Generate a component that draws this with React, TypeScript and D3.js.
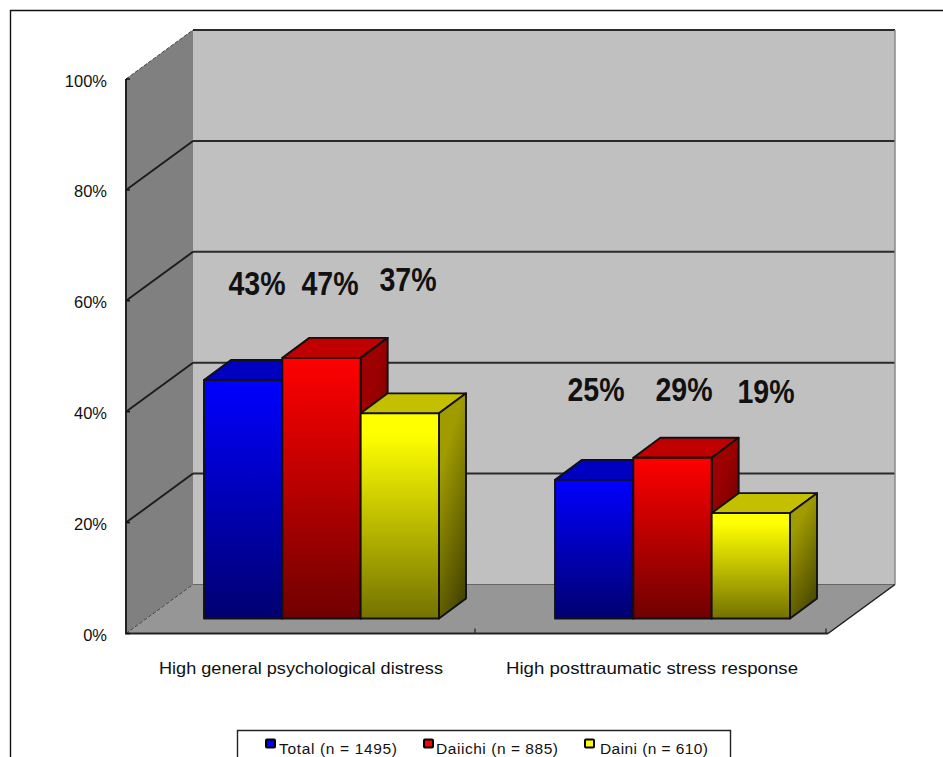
import React from "react";
import * as d3 from "d3";

const categories = ["High general psychological distress", "High posttraumatic stress response"];
const categoryTextWidths = [284, 292];
const seriesNames = ["Total (n = 1495)", "Daiichi (n = 885)", "Daini (n = 610)"];
const legendTextWidths = [118, 122, 108];
const totalValues = [43, 25];
const daiichiValues = [47, 29];
const dainiValues = [37, 19];
const yTicks = [0, 20, 40, 60, 80, 100];
const labelAnchors = [
  [[257, 295], [330, 295], [408, 291]],
  [[596, 401], [684, 401], [766, 403]],
];

const WIDTH = 943;
const HEIGHT = 757;
const FRONT_LEFT = 126;
const FRONT_RIGHT = 828;
const DEPTH_X = 67;
const DEPTH_Y = -49;
const BAR_DEPTH_X = 27;
const BAR_DEPTH_Y = -20;
const BAR_SHIFT_X = 20;
const BAR_BASE_LIFT = 15;

const y = d3.scaleLinear().domain([0, 100]).range([633.5, 79]);
const xBand = d3.scaleBand<string>().domain(categories).range([FRONT_LEFT, FRONT_RIGHT]);
const xInner = d3.scaleBand<string>().domain(seriesNames).range([-117.5, 117.5]);
const FONT = "'Liberation Sans', Arial, sans-serif";

const palette = [
  { id: "blue", front: ["#0000ff", "#000070"], top: "#0000c0", side: ["#000098", "#000048"] },
  { id: "red", front: ["#ff0000", "#700000"], top: "#c00000", side: ["#9c0000", "#4c0000"] },
  { id: "yellow", front: ["#ffff00", "#747200"], top: "#c4c000", side: ["#a09c00", "#464400"] },
];
const allValues = [totalValues, daiichiValues, dainiValues];

const poly = (pts: [number, number][]) => (d3.line()(pts) ?? "") + "Z";

export default function App() {
  const line = "#1c1c1c";
  return (
    <svg
      width={WIDTH}
      height={HEIGHT}
      style={{ position: "absolute", left: 0, top: 0, background: "#fff", fontFamily: FONT }}
    >
      <defs>
        {palette.map((p) => (
          <React.Fragment key={p.id}>
            <linearGradient id={`front-${p.id}`} x1="0" y1="0" x2="0" y2="1">
              <stop offset={p.id === "yellow" ? "0.1" : "0"} stopColor={p.front[0]} />
              <stop offset="1" stopColor={p.front[1]} />
            </linearGradient>
            <linearGradient id={`side-${p.id}`} x1="0.3" y1="0" x2="0.7" y2="1">
              <stop offset="0.2" stopColor={p.side[0]} />
              <stop offset="1" stopColor={p.side[1]} />
            </linearGradient>
          </React.Fragment>
        ))}
      </defs>

      {/* outer frame, open towards the page edge */}
      <path d={`M10.5,${HEIGHT}V10.5H${WIDTH}`} fill="none" stroke="#111" strokeWidth={1.4} />

      {/* walls and floor */}
      <path
        d={poly([[FRONT_LEFT, y(0)], [FRONT_LEFT, y(100)], [FRONT_LEFT + DEPTH_X, y(100) + DEPTH_Y], [FRONT_LEFT + DEPTH_X, y(0) + DEPTH_Y]])}
        fill="#808080"
      />
      <rect
        x={FRONT_LEFT + DEPTH_X}
        y={y(100) + DEPTH_Y}
        width={FRONT_RIGHT - FRONT_LEFT}
        height={y(0) - y(100)}
        fill="#c0c0c0"
      />
      <path
        d={poly([[FRONT_LEFT, y(0)], [FRONT_RIGHT, y(0)], [FRONT_RIGHT + DEPTH_X, y(0) + DEPTH_Y], [FRONT_LEFT + DEPTH_X, y(0) + DEPTH_Y]])}
        fill="#969696"
      />

      {/* gridlines across both walls */}
      {yTicks.map((t) => {
        const yf = y(t);
        const yb = yf + DEPTH_Y;
        const faint = t === 0;
        const dashed = t === 0 || t === 100;
        return (
          <g key={t} fill="none">
            <path
              d={`M${FRONT_LEFT},${yf}L${FRONT_LEFT + DEPTH_X},${yb}`}
              stroke={dashed ? "#444" : line}
              strokeWidth={dashed ? 1 : 1.9}
              strokeDasharray={dashed ? "4 1.5" : undefined}
            />
            <path
              d={`M${FRONT_LEFT + DEPTH_X},${yb}H${FRONT_RIGHT + DEPTH_X}`}
              stroke={faint ? "#666" : "#2a2a2a"}
              strokeWidth={faint ? 1 : 2}
            />
          </g>
        );
      })}
      <path
        d={`M${FRONT_RIGHT + DEPTH_X},${y(100) + DEPTH_Y}V${y(0) + DEPTH_Y}`}
        stroke="#8a8a8a"
        strokeWidth={1.5}
        fill="none"
      />
      <path
        d={`M${FRONT_RIGHT},${y(0)}L${FRONT_RIGHT + DEPTH_X},${y(0) + DEPTH_Y}`}
        stroke={line}
        strokeWidth={1.5}
        fill="none"
      />

      {/* value axis and category axis */}
      <path d={`M${FRONT_LEFT},${y(100)}V${y(0)}H${FRONT_RIGHT}`} fill="none" stroke="#222" strokeWidth={2} />
      {yTicks.map((t) => (
        <g key={t}>
          <path d={`M${FRONT_LEFT},${y(t)}h4`} stroke="#111" strokeWidth={1.5} />
          <text x={107} y={y(t) + 7.5} textAnchor="end" fontSize={16.5} fill="#111">
            {t}%
          </text>
        </g>
      ))}
      <path
        d={categories
          .map((c) => `M${(xBand(c) ?? 0) + xBand.bandwidth() - 2},${y(0)}v-5`)
          .join("")}
        stroke="#222"
        strokeWidth={1.2}
      />
      {categories.map((c, i) => (
        <text
          key={c}
          x={(xBand(c) ?? 0) + xBand.bandwidth() / 2 - 0.5}
          y={674}
          textAnchor="middle"
          fontSize={17}
          textLength={categoryTextWidths[i]}
          lengthAdjust="spacingAndGlyphs"
          fill="#111"
        >
          {c}
        </text>
      ))}

      {/* 3D bars, painted back to front within each group */}
      {categories.map((c, ci) => {
        const centre = (xBand(c) ?? 0) + xBand.bandwidth() / 2 + BAR_SHIFT_X;
        return (
          <g key={c} stroke="#111" strokeWidth={1.9} strokeLinejoin="round">
            {seriesNames.map((s, si) => {
              const p = palette[si];
              const x0 = centre + (xInner(s) ?? 0);
              const x1 = x0 + xInner.bandwidth();
              const base = y(0) - BAR_BASE_LIFT;
              const top = y(allValues[si][ci]) - BAR_BASE_LIFT;
              return (
                <g key={s}>
                  <path
                    d={poly([[x0, top], [x1, top], [x1 + BAR_DEPTH_X, top + BAR_DEPTH_Y], [x0 + BAR_DEPTH_X, top + BAR_DEPTH_Y]])}
                    fill={p.top}
                  />
                  <path
                    d={poly([[x1, top], [x1 + BAR_DEPTH_X, top + BAR_DEPTH_Y], [x1 + BAR_DEPTH_X, base + BAR_DEPTH_Y], [x1, base]])}
                    fill={`url(#side-${p.id})`}
                  />
                  <rect x={x0} y={top} width={x1 - x0} height={base - top} fill={`url(#front-${p.id})`} />
                </g>
              );
            })}
          </g>
        );
      })}

      {/* value labels, narrowed horizontally */}
      {categories.map((c, ci) =>
        seriesNames.map((s, si) => (
          <text
            key={c + s}
            transform={`translate(${labelAnchors[ci][si][0]},${labelAnchors[ci][si][1]}) scale(0.865,1)`}
            textAnchor="middle"
            fontSize={33}
            fontWeight={700}
            fill="#111"
          >
            {allValues[si][ci]}%
          </text>
        )),
      )}

      {/* legend, running off the bottom edge */}
      <path d={`M237.5,${HEIGHT}V730.5H730.5V${HEIGHT}`} fill="#fff" stroke="#222" strokeWidth={1.4} />
      {seriesNames.map((s, i) => {
        const keyX = [266, 424, 585][i];
        const textX = [279, 436, 600][i];
        return (
          <g key={s}>
            <rect x={keyX} y={739.5} width={9} height={8} rx={1} fill={palette[i].front[0]} stroke="#000" strokeWidth={2} />
            <text
              x={textX}
              y={754}
              fontSize={15.5}
              textLength={legendTextWidths[i]}
              lengthAdjust="spacing"
              fill="#111"
            >
              {s}
            </text>
          </g>
        );
      })}
    </svg>
  );
}
